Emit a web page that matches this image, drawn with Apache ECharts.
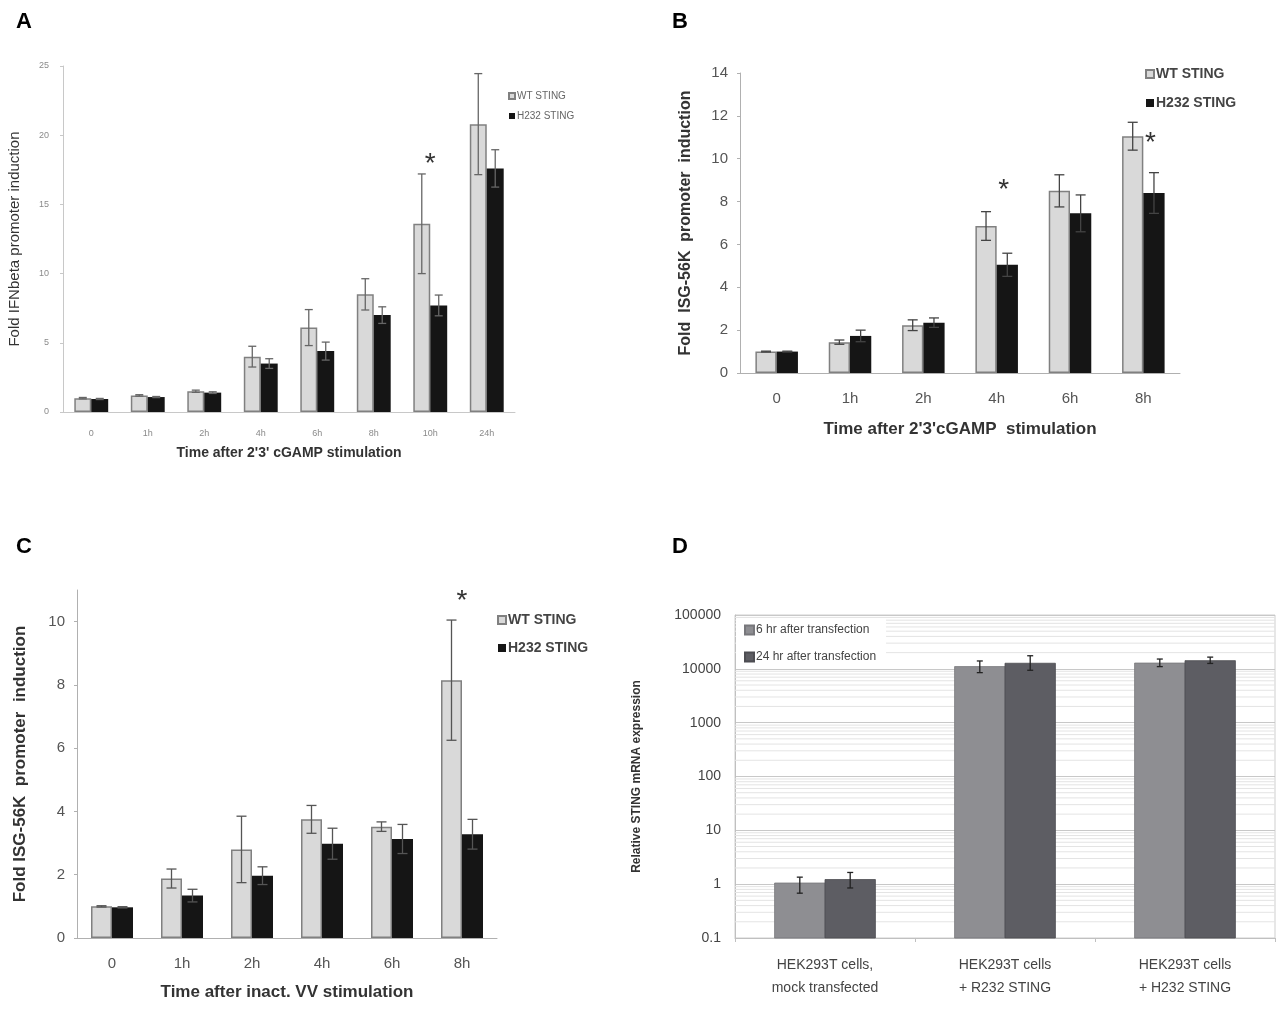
<!DOCTYPE html>
<html>
<head>
<meta charset="utf-8">
<script src="https://cdn.jsdelivr.net/npm/echarts@6/dist/echarts.min.js"></script>
<style>
  html, body { margin: 0; background: #fff; }
  #main { width: 1280px; height: 1012px; }
</style>
</head>
<body>
<div id="main"></div>
<script>
// panel A
var timesA = ['0', '1h', '2h', '4h', '6h', '8h', '10h', '24h'];
var wtA = [1.0, 1.2, 1.5, 4.0, 6.1, 8.5, 13.6, 20.8];
var wtErrA = [0.05, 0.05, 0.08, 0.75, 1.3, 1.13, 3.6, 3.65];
var h232A = [0.94, 1.08, 1.4, 3.5, 4.4, 7.0, 7.7, 17.6];
var h232ErrA = [0.04, 0.04, 0.06, 0.35, 0.65, 0.6, 0.75, 1.35];
var starsA = [['10h', 17.9]];

// panel B
var timesB = ['0', '1h', '2h', '4h', '6h', '8h'];
var wtB = [1.0, 1.44, 2.23, 6.86, 8.5, 11.05];
var wtErrB = [0.02, 0.1, 0.25, 0.67, 0.75, 0.65];
var h232B = [1.0, 1.73, 2.35, 5.05, 7.45, 8.4];
var h232ErrB = [0.02, 0.27, 0.22, 0.54, 0.86, 0.95];
var starsB = [['4h', 8.55], ['8h', 10.7]];

// panel C
var timesC = ['0', '1h', '2h', '4h', '6h', '8h'];
var wtC = [1.0, 1.88, 2.8, 3.75, 3.52, 8.15];
var wtErrC = [0.02, 0.3, 1.05, 0.44, 0.15, 1.9];
var h232C = [0.97, 1.34, 1.97, 2.98, 3.13, 3.28];
var h232ErrC = [0.02, 0.2, 0.28, 0.49, 0.46, 0.47];
var starsC = [['8h', 10.65]];

// panel D
var cellsD = ['HEK293T cells,\nmock transfected', 'HEK293T cells\n+ R232 STING', 'HEK293T cells\n+ H232 STING'];
var hr6D = [1.05, 11000, 12800];
var hr6LowD = [0.68, 8500, 11000];
var hr6HighD = [1.35, 14000, 15200];
var hr24D = [1.22, 12700, 14200];
var hr24LowD = [0.85, 9400, 12600];
var hr24HighD = [1.65, 17500, 16500];
var decadesD = [0.1, 1, 10, 100, 1000, 10000];
var minorStepsD = [2, 3, 4, 5, 6, 7, 8, 9];
var axisMinD = 0.1;

var font = 'Liberation Sans, Arial, sans-serif';
var wtStyle = { color: '#d9d9d9', borderColor: '#808080', borderWidth: 1.5 };
var h232Style = { color: '#151515' };

var myChart = echarts.init(document.getElementById('main'));

function errBars(idx, low, high, side, gap, color, cap) {
  return {
    type: 'custom',
    xAxisIndex: idx,
    yAxisIndex: idx,
    silent: true,
    z: 5,
    data: low.map(function (l, i) { return [i, l, high[i]]; }),
    encode: { x: 0, y: [1, 2] },
    renderItem: function (params, api) {
      var band = api.size([1, 0])[0];
      var barW = band * (1 - gap) / 2;
      var lo = api.coord([api.value(0), api.value(1)]);
      var hi = api.coord([api.value(0), api.value(2)]);
      var x = lo[0] + side * barW / 2;
      var st = { stroke: color, lineWidth: 1.3 };
      return {
        type: 'group',
        children: [
          { type: 'line', shape: { x1: x, y1: lo[1], x2: x, y2: hi[1] }, style: st },
          { type: 'line', shape: { x1: x - cap, y1: lo[1], x2: x + cap, y2: lo[1] }, style: st },
          { type: 'line', shape: { x1: x - cap, y1: hi[1], x2: x + cap, y2: hi[1] }, style: st }
        ]
      };
    }
  };
}

function meanErr(mean, err, sign) {
  return mean.map(function (m, i) { return m + sign * err[i]; });
}

function stars(idx, pts, dx) {
  return {
    type: 'custom',
    xAxisIndex: idx,
    yAxisIndex: idx,
    silent: true,
    z: 6,
    data: pts,
    encode: { x: 0, y: 1 },
    renderItem: function (params, api) {
      var p = api.coord([api.value(0), api.value(1)]);
      return {
        type: 'text',
        x: p[0] + dx,
        y: p[1],
        style: { text: '*', fontSize: 28, fontFamily: font, fill: '#333', align: 'center', verticalAlign: 'middle' }
      };
    }
  };
}

var minorD = [];
decadesD.forEach(function (d) {
  minorStepsD.forEach(function (k) { minorD.push([0, k * d]); });
});

function bars(idx, name, data, style, gap) {
  return {
    type: 'bar', name: name, xAxisIndex: idx, yAxisIndex: idx,
    data: data, barGap: 0, barCategoryGap: gap, itemStyle: style, z: 3
  };
}

// log axis bars drawn from the axis minimum instead of 1
function logBars(name, data, side, gap, style) {
  return {
    type: 'custom', name: name, xAxisIndex: 3, yAxisIndex: 3, z: 3,
    itemStyle: style,
    data: data.map(function (v, i) { return [i, v]; }),
    encode: { x: 0, y: 1 },
    renderItem: function (params, api) {
      var band = api.size([1, 0])[0];
      var barW = band * (1 - gap) / 2;
      var top = api.coord([api.value(0), api.value(1)]);
      var base = api.coord([api.value(0), axisMinD]);
      var x0 = side < 0 ? top[0] - barW : top[0];
      return {
        type: 'rect',
        shape: { x: x0, y: top[1], width: barW, height: base[1] - top[1] },
        style: api.style()
      };
    }
  };
}

function catAxis(idx, data, lab, name) {
  return {
    gridIndex: idx, type: 'category', data: data,
    axisLine: { lineStyle: { color: lab.line } },
    axisTick: { show: false },
    axisLabel: { color: lab.color, fontSize: lab.size, margin: lab.margin, fontFamily: font },
    name: name, nameLocation: 'middle', nameGap: lab.nameGap,
    nameTextStyle: { fontSize: lab.nameSize, fontWeight: 'bold', color: '#333', fontFamily: font }
  };
}

function valAxis(idx, max, interval, lab, name) {
  return {
    gridIndex: idx, type: 'value', min: 0, max: max, interval: interval,
    axisLine: { show: true, lineStyle: { color: lab.line } },
    axisTick: { show: true, length: 3, lineStyle: { color: lab.line } },
    splitLine: { show: false },
    axisLabel: { color: lab.color, fontSize: lab.size, margin: lab.margin, fontFamily: font, showMaxLabel: lab.showMax },
    name: name, nameLocation: 'middle', nameGap: lab.nameGap,
    nameTextStyle: { fontSize: lab.nameSize, fontWeight: lab.weight, color: '#333', fontFamily: font }
  };
}

function legendFor(left, top, size, gap, icon, weight, color) {
  return {
    left: left, top: top, orient: 'vertical', itemGap: gap,
    itemWidth: icon, itemHeight: icon, icon: 'rect',
    data: ['WT STING', 'H232 STING'],
    textStyle: { fontSize: size, fontWeight: weight, color: color, fontFamily: font, padding: [0, 0, 0, -3] }
  };
}

var option = {
  backgroundColor: '#fff',
  animation: false,
  title: [
    { text: 'A', left: 11, top: 6 },
    { text: 'B', left: 667, top: 6 },
    { text: 'C', left: 11, top: 531 },
    { text: 'D', left: 667, top: 531 }
  ].map(function (t) {
    t.textStyle = { fontSize: 22, fontWeight: 'bold', color: '#000', fontFamily: font };
    return t;
  }),
  legend: [
    legendFor(503, 86, 10, 10, 6, 'normal', '#666'),
    legendFor(1140, 62, 14, 15, 8, 'bold', '#444'),
    legendFor(492, 608, 14, 14, 8, 'bold', '#444'),
    {
      left: 736, top: 618, orient: 'vertical', itemGap: 15, itemWidth: 9, itemHeight: 9, icon: 'rect',
      backgroundColor: '#fff', padding: [6, 10, 6, 8],
      data: ['6 hr after transfection', '24 hr after transfection'],
      textStyle: { fontSize: 12, color: '#444', fontFamily: font, padding: [0, 0, 0, -3] }
    }
  ],
  grid: [
    { left: 63, top: 66, width: 452, height: 346 },
    { left: 740, top: 73, width: 440, height: 300 },
    { left: 77, top: 590, width: 420, height: 348 },
    { left: 735, top: 615, width: 540, height: 323, show: true, borderColor: '#cfcfcf', borderWidth: 1 }
  ],
  xAxis: [
    catAxis(0, timesA, { line: '#c8c8c8', color: '#8a8a8a', size: 9, margin: 17, nameGap: 34, nameSize: 14 },
      "Time after 2'3' cGAMP stimulation"),
    catAxis(1, timesB, { line: '#b0b0b0', color: '#555', size: 15, margin: 18, nameGap: 48, nameSize: 17 },
      "Time after 2'3'cGAMP  stimulation"),
    catAxis(2, timesC, { line: '#b0b0b0', color: '#555', size: 15, margin: 18, nameGap: 46, nameSize: 17 },
      'Time after inact. VV stimulation'),
    {
      gridIndex: 3, type: 'category', data: cellsD,
      axisLine: { lineStyle: { color: '#c0c0c0' } },
      axisTick: { show: true, length: 4, lineStyle: { color: '#c0c0c0' } },
      axisLabel: { color: '#444', fontSize: 14, lineHeight: 23, margin: 16, fontFamily: font }
    }
  ],
  yAxis: [
    valAxis(0, 25, 5, { line: '#c8c8c8', color: '#8a8a8a', size: 9, margin: 14, nameGap: 41, nameSize: 15, weight: 'normal', showMax: true },
      'Fold IFNbeta promoter induction'),
    valAxis(1, 14, 2, { line: '#b0b0b0', color: '#555', size: 15, margin: 12, nameGap: 46, nameSize: 16, weight: 'bold', showMax: true },
      'Fold  ISG-56K  promoter  induction'),
    valAxis(2, 11, 2, { line: '#b0b0b0', color: '#555', size: 15, margin: 12, nameGap: 48, nameSize: 17, weight: 'bold', showMax: false },
      'Fold ISG-56K  promoter  induction'),
    {
      gridIndex: 3, type: 'log', logBase: 10, min: axisMinD, max: 100000,
      axisLine: { show: true, lineStyle: { color: '#c0c0c0' } },
      axisTick: { show: false },
      splitLine: { show: true, lineStyle: { color: '#c8c8c8' } },
      axisLabel: {
        color: '#444', fontSize: 14, margin: 14, fontFamily: font,
        formatter: function (v) { return String(+v.toPrecision(6)); }
      },
      name: 'Relative STING mRNA expression', nameLocation: 'middle', nameGap: 92,
      nameTextStyle: { fontSize: 12, fontWeight: 'bold', color: '#333', fontFamily: font }
    }
  ],
  series: [
    bars(0, 'WT STING', wtA, wtStyle, '40%'),
    bars(0, 'H232 STING', h232A, h232Style, '40%'),
    errBars(0, meanErr(wtA, wtErrA, -1), meanErr(wtA, wtErrA, 1), -1, 0.4, '#666', 4),
    errBars(0, meanErr(h232A, h232ErrA, -1), meanErr(h232A, h232ErrA, 1), 1, 0.4, '#666', 4),
    stars(0, starsA, 0),

    bars(1, 'WT STING', wtB, wtStyle, '42%'),
    bars(1, 'H232 STING', h232B, h232Style, '42%'),
    errBars(1, meanErr(wtB, wtErrB, -1), meanErr(wtB, wtErrB, 1), -1, 0.42, '#444', 5),
    errBars(1, meanErr(h232B, h232ErrB, -1), meanErr(h232B, h232ErrB, 1), 1, 0.42, '#444', 5),
    stars(1, starsB, 7),

    bars(2, 'WT STING', wtC, wtStyle, '40%'),
    bars(2, 'H232 STING', h232C, h232Style, '40%'),
    errBars(2, meanErr(wtC, wtErrC, -1), meanErr(wtC, wtErrC, 1), -1, 0.4, '#555', 5),
    errBars(2, meanErr(h232C, h232ErrC, -1), meanErr(h232C, h232ErrC, 1), 1, 0.4, '#555', 5),
    stars(2, starsC, 0),

    {
      type: 'custom', xAxisIndex: 3, yAxisIndex: 3, silent: true, z: 1,
      data: minorD, encode: { x: 0, y: 1 },
      renderItem: function (params, api) {
        var y = api.coord([0, api.value(1)])[1];
        var cs = params.coordSys;
        return {
          type: 'line',
          shape: { x1: cs.x, y1: y, x2: cs.x + cs.width, y2: y },
          style: { stroke: '#e4e4e4', lineWidth: 1 }
        };
      }
    },
    logBars('6 hr after transfection', hr6D, -1, 0.44, { color: '#8e8e92', borderColor: '#77777b', borderWidth: 0.8 }),
    logBars('24 hr after transfection', hr24D, 1, 0.44, { color: '#5d5d63', borderColor: '#4d4d52', borderWidth: 0.8 }),
    errBars(3, hr6LowD, hr6HighD, -1, 0.44, '#222', 3),
    errBars(3, hr24LowD, hr24HighD, 1, 0.44, '#222', 3)
  ]
};

myChart.setOption(option);
</script>
</body>
</html>
